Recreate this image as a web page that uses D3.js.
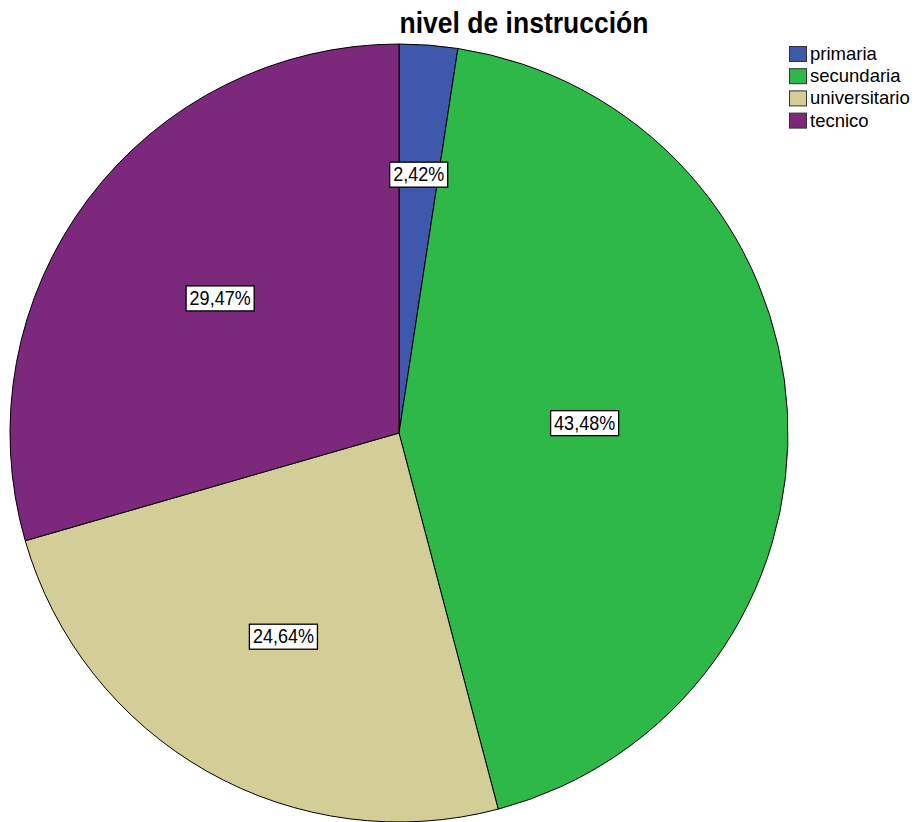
<!DOCTYPE html>
<html><head><meta charset="utf-8">
<script src="https://cdn.jsdelivr.net/npm/d3@7"></script>
<style>body{margin:0;background:#fff}svg{display:block}</style>
</head><body>
<svg id="chart" width="915" height="822"></svg>
<script>
const categories = ["primaria", "secundaria", "universitario", "tecnico"];
const values = [2.42, 43.48, 24.64, 29.47];
const labels = ["2,42%", "43,48%", "24,64%", "29,47%"];
const colors = ["#3E58AC", "#2EB848", "#D3CE97", "#7B287D"];
const title = "nivel de instrucción";

const svg = d3.select("#chart");
const cx = 399, cy = 433, R = 389;
const font = "Liberation Sans, Arial, sans-serif";
const data = categories.map((c, i) => ({cat: c, value: values[i], label: labels[i], color: colors[i]}));

const pie = d3.pie().value(d => d.value).sort(null);
const arcs = pie(data);
const arc = d3.arc().innerRadius(0).outerRadius(R);

const g = svg.append("g").attr("transform", `translate(${cx},${cy})`);
g.selectAll("path").data(arcs).join("path")
  .attr("d", arc).attr("fill", d => d.data.color)
  .attr("stroke", "#000").attr("stroke-width", 1);

// labels at sector centroid
const lg = g.selectAll("g.lab").data(arcs).join("g").attr("class", "lab")
  .attr("transform", d => {
    const a = (d.endAngle - d.startAngle) / 2;
    const mid = (d.startAngle + d.endAngle) / 2;
    const r = 2 * R * Math.sin(a) / (3 * a);
    return `translate(${r * Math.sin(mid)},${-r * Math.cos(mid)})`;
  });
lg.each(function(d) {
  const s = d3.select(this);
  const t = s.append("text").text(d.data.label)
    .attr("text-anchor", "middle")
    .attr("transform", "scale(1,1.12)").attr("y", 6)
    .attr("font-family", font).attr("font-size", 18).attr("fill", "#000");
  const bb = t.node().getBBox();
  s.insert("rect", "text").attr("x", -bb.width / 2 - 3.5).attr("y", -12.5).attr("width", bb.width + 7).attr("height", 25)
    .attr("fill", "#fff").attr("stroke", "#000").attr("stroke-width", 1.3);
});

svg.append("text").text(title).attr("transform", "translate(524,33) scale(1,1.08)")
  .attr("text-anchor", "middle").attr("font-family", font)
  .attr("font-weight", "bold").attr("font-size", 26.5).attr("fill", "#000");

const leg = svg.append("g").attr("transform", "translate(789,46)");
const row = leg.selectAll("g").data(data).join("g").attr("transform", (d, i) => `translate(0,${i * 22.2})`);
row.append("rect").attr("x", 0.5).attr("y", 0.5).attr("width", 17).attr("height", 15).attr("fill", d => d.color)
  .attr("stroke", "#333").attr("stroke-width", 1);
row.append("text").text(d => d.cat).attr("x", 21).attr("y", 14)
  .attr("font-family", font).attr("font-size", 18.5).attr("fill", "#000");
</script>
</body></html>
